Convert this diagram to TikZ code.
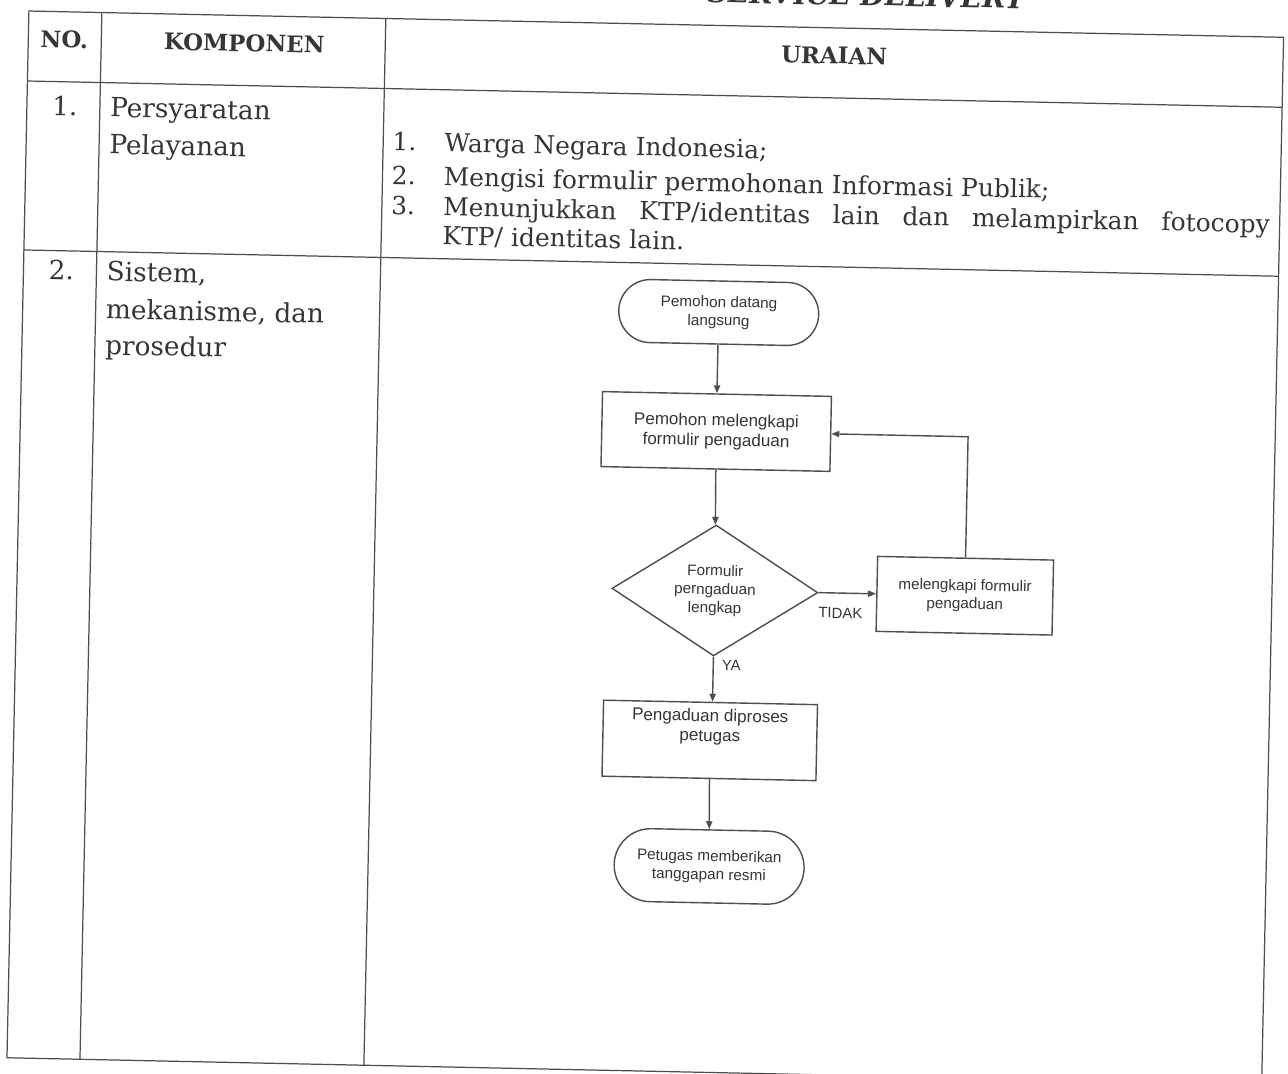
\documentclass[tikz,border=0pt]{standalone}
\usepackage{fontspec}
\setmainfont{DejaVu Serif}
\newfontfamily\flowfont{Liberation Sans}
\usetikzlibrary{shapes.geometric, shapes.misc, arrows.meta}

\definecolor{inkgray}{HTML}{363636}
\definecolor{rulegray}{HTML}{4E4E4E}

\begin{document}
\begin{tikzpicture}[x=0.02cm, y=-0.02cm,
  rule/.style={draw=rulegray, line width=0.7pt},
  bodytext/.style={anchor=base west, inner sep=0pt, text=inkgray, font=\fontsize{15}{17}\selectfont},
  listtext/.style={bodytext, font=\fontsize{14.2}{16}\selectfont},
  headtext/.style={anchor=base, inner sep=0pt, text=inkgray, font=\fontsize{13}{16}\selectfont\bfseries},
  flowbox/.style={draw=rulegray, line width=0.8pt, align=center, text=inkgray, inner sep=2pt,
    font=\flowfont\fontsize{8.7}{10.5}\selectfont},
  processbox/.style={flowbox, rectangle},
  terminal/.style={flowbox, rounded rectangle},
  decision/.style={flowbox, diamond, aspect=1.6, inner sep=0pt},
  flowline/.style={draw=rulegray, line width=0.8pt, -{Triangle[length=4.5pt, width=3.5pt]}},
  flowlabel/.style={text=inkgray, inner sep=0pt, font=\flowfont\fontsize{8.5}{10}\selectfont}
]
  \clip (0,0) rectangle (1288,1074);
  \fill[white] (0,0) rectangle (1288,1074);

  \begin{scope}[rotate around={-1.2:(644,537)}, transform shape]

  %%%%%%%%%%%%%%%%%%%%%%%%%%%%%%
  % Table frame and rules      %
  %%%%%%%%%%%%%%%%%%%%%%%%%%%%%%
  \node[anchor=base, inner sep=0pt, text=inkgray, font=\fontsize{16}{18}\selectfont\bfseries\itshape]
    (judul) at (855,1) {SERVICE DELIVERY};
  \draw[rule] (18,24) rectangle (1273,1071);
  \draw[rule] (18,94) -- (1273,94);
  \draw[rule] (18,263) -- (1273,263);
  \draw[rule] (91,24) -- (91,1071);
  \draw[rule] (375,24) -- (375,1071);

  %%%%%%%%%%%%%%%%%%%%%%%%%%%%%%
  % Header row                 %
  %%%%%%%%%%%%%%%%%%%%%%%%%%%%%%
  \node[headtext] (hno) at (54,60) {NO.};
  \node[headtext] (hkomponen) at (234,60) {KOMPONEN};
  \node[headtext] (huraian) at (824,60) {URAIAN};

  %%%%%%%%%%%%%%%%%%%%%%%%%%%%%%
  % Row 1: persyaratan         %
  %%%%%%%%%%%%%%%%%%%%%%%%%%%%%%
  \node[bodytext] (no1) at (43,128) {1.};
  \node[bodytext] (komp1a) at (101,128) {Persyaratan};
  \node[bodytext] (komp1b) at (101,165) {Pelayanan};
  % numbered list in the uraian column
  \node[listtext] (ur1n) at (384,156) {1.};
  \node[listtext] (ur1) at (436,156) {Warga Negara Indonesia;};
  \node[listtext] (ur2n) at (384,190) {2.};
  \node[listtext] (ur2) at (436,190) {Mengisi formulir permohonan Informasi Publik;};
  \node[listtext] (ur3n) at (384,220) {3.};
  \node[listtext] (ur3) at (436,220)
    {\makebox[16.54cm][s]{Menunjukkan KTP/identitas lain dan melampirkan fotocopy}};
  \node[listtext] (ur3b) at (436,249) {KTP/ identitas lain.};

  %%%%%%%%%%%%%%%%%%%%%%%%%%%%%%
  % Row 2: sistem, mekanisme   %
  %%%%%%%%%%%%%%%%%%%%%%%%%%%%%%
  \node[bodytext] (no2) at (43,292) {2.};
  \node[bodytext] (komp2a) at (101,292) {Sistem,};
  \node[bodytext] (komp2b) at (101,330) {mekanisme, dan};
  \node[bodytext] (komp2c) at (101,366) {prosedur};

  %%%%%%%%%%%%%%%%%%%%%%%%%%%%%%
  % Flowchart of the procedure %
  %%%%%%%%%%%%%%%%%%%%%%%%%%%%%%
  \node[terminal, minimum width=4.14cm, minimum height=1.26cm] (datang) at (714,311)
    {Pemohon datang\\langsung};
  \node[processbox, minimum width=4.58cm, minimum height=1.5cm,
        font=\flowfont\fontsize{9.7}{11.3}\selectfont] (lengkapi) at (714,430)
    {Pemohon melengkapi\\formulir pengaduan};
  \node[decision, minimum width=4.12cm, minimum height=2.62cm] (cek) at (716,589)
    {Formulir\\perngaduan\\lengkap};
  \node[processbox, minimum width=3.52cm, minimum height=1.5cm] (koreksi) at (966,589)
    {melengkapi formulir\\pengaduan};
  \node[processbox, minimum width=4.28cm, minimum height=1.52cm,
        font=\flowfont\fontsize{9.7}{11.3}\selectfont] (proses) at (714,739)
    {Pengaduan diproses\\petugas\\[6pt]};
  \node[terminal, minimum width=3.94cm, minimum height=1.46cm] (tanggapan) at (716,865)
    {Petugas memberikan\\tanggapan resmi};

  % Connectors
  \draw[flowline] (datang) -- (lengkapi);
  \draw[flowline] (lengkapi) -- (cek);
  \draw[flowline] (cek.south) -- (proses.north -| cek.south);
  \draw[flowline] (cek.east) -- (koreksi.west);
  \draw[flowline] (koreksi.north) |- (lengkapi.east);
  \draw[flowline] (proses) -- (tanggapan);

  % Branch labels
  \node[flowlabel] (ya) at (734,664) {YA};
  \node[flowlabel] (tidak) at (842,609) {TIDAK};

  \end{scope}
\end{tikzpicture}
\end{document}
